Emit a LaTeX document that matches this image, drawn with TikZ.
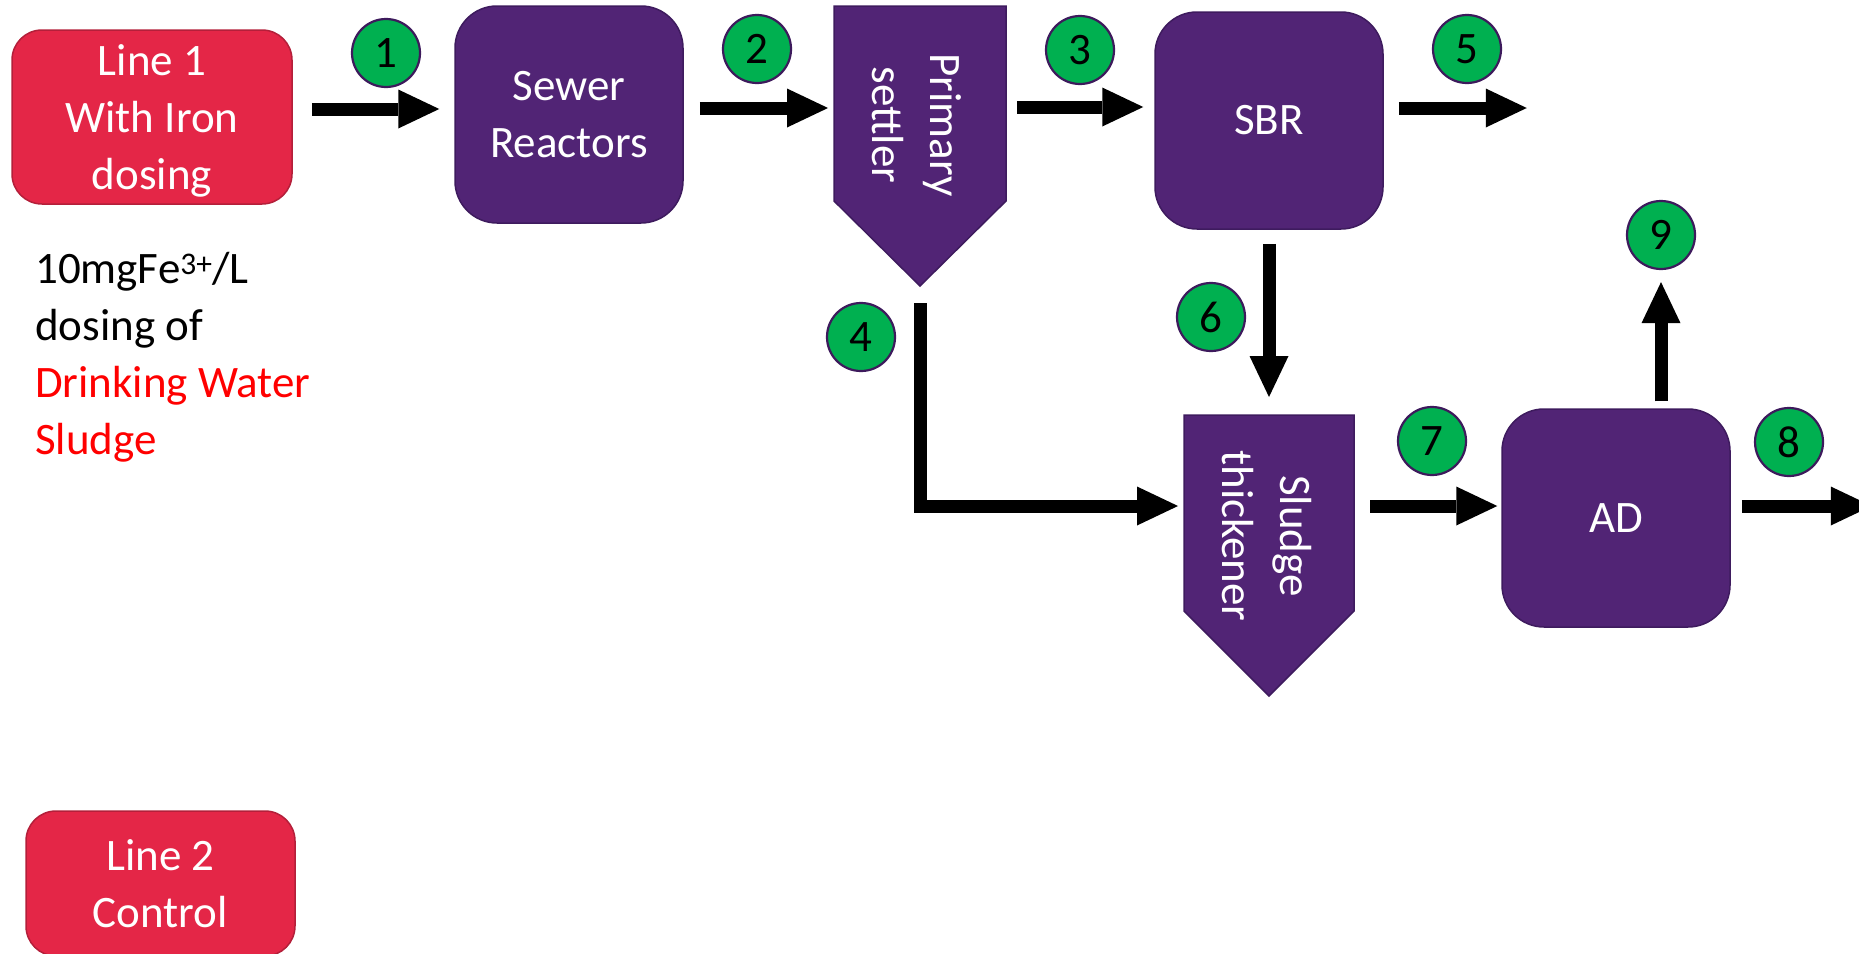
\documentclass[tikz,border=0pt]{standalone}
\usepackage{fontspec}
\setmainfont{Carlito}
\usetikzlibrary{arrows.meta,calc}

\definecolor{procfill}{HTML}{512475}
\definecolor{procedge}{HTML}{3E1B5E}
\definecolor{linefill}{HTML}{E42647}
\definecolor{lineedge}{HTML}{B41F3A}
\definecolor{numfill}{HTML}{00B050}
\definecolor{numedge}{HTML}{3D1A5C}

\newcommand{\bigfont}{\fontsize{45pt}{57pt}\selectfont}
\newcommand{\sidefont}{\fontsize{45pt}{58pt}\selectfont}

\tikzset{
  linebox/.style={draw=lineedge, fill=linefill, line width=1.5pt, rounded corners=30pt,
    text=white, font=\bigfont, align=center, inner sep=0pt},
  procbox/.style={draw=procedge, fill=procfill, line width=1.5pt, rounded corners=42pt,
    text=white, font=\bigfont, align=center, inner sep=0pt,
    minimum width=228pt, minimum height=217pt},
  tankframe/.style={rectangle, inner sep=0pt, outer sep=0pt},
  tankshape/.style={draw=procedge, fill=procfill, line width=1.5pt, line join=miter},
  tanklabel/.style={rotate=-90, text=white, font=\sidefont, align=center, inner sep=0pt},
  num/.style={circle, draw=numedge, line width=2.2pt, fill=numfill, minimum size=68pt,
    inner sep=0pt, font=\bigfont, text=black},
  flow/.style={line width=13pt, line join=miter,
    -{Triangle[length=41pt, width=39pt, line width=0pt]}},
}

\begin{document}
\begin{tikzpicture}[x=1pt, y=-1pt]
\useasboundingbox (0,0) rectangle (1859,953);
\clip (0,0) rectangle (1859,953);
\fill[white] (0,0) rectangle (1859,953);

% treatment lines
\node[linebox, minimum width=280pt, minimum height=174pt] (line1) at (152,117)
  {\rule{0pt}{38pt}Line 1\\With Iron\\dosing};
\node[linebox, minimum width=269pt, minimum height=145pt] (line2) at (160.5,883.5)
  {Line 2\\Control};

% dosing note
\node[anchor=north west, align=left, inner sep=0pt, font=\bigfont] (note) at (35,252)
  {10mgFe\textsuperscript{3+}/L\\dosing of\\\textcolor{red}{Drinking Water}\\\textcolor{red}{Sludge}};

% process units
\node[procbox] (sewer) at (569,114.5) {Sewer\\Reactors};
\node[procbox] (sbr) at (1269,120.5) {SBR};
\node[procbox, minimum height=218pt] (ad) at (1616,518) {AD};

% settling tanks: rectangular body with a pointed bottom
\node[tankframe, minimum width=172pt, minimum height=195pt] (settler) at (920,103.5) {};
\path[tankshape] (settler.north west) -- (settler.north east) -- (settler.south east)
  -- ($(settler.south)+(0,85)$) -- (settler.south west) -- cycle;
\node[tanklabel] (settlerlabel) at (917,125) {Primary\\settler};

\node[tankframe, minimum width=170pt, minimum height=196pt] (thick) at (1269,513) {};
\path[tankshape] (thick.north west) -- (thick.north east) -- (thick.south east)
  -- ($(thick.south)+(0,85)$) -- (thick.south west) -- cycle;
\node[tanklabel] (thicklabel) at (1267,536) {Sludge\\thickener};

% flows
\draw[flow] ($(line1.east)+(19,-8)$) -- ($(sewer.west)+(-15,-5.5)$);
\draw[flow] ($(sewer.east)+(16,-6.5)$) -- ($(settler.west)+(-6,4.5)$);
\draw[flow] ($(settler.east)+(11,3.5)$) -- ($(sbr.west)+(-11,-13.5)$);
\draw[flow] ($(sbr.east)+(15,-12.5)$) -- ++(128,0);
\draw[flow] ($(sbr.south)+(0,14)$) -- ($(thick.north)+(0,-18)$);
\draw[flow] ($(settler.south)+(0,102)$) |- ($(thick.west)+(-6,-7)$);
\draw[flow] ($(thick.east)+(16,-7)$) -- ($(ad.west)+(-4,-12)$);
\draw[flow] ($(ad.east)+(11,-12)$) -- ++(130,0);

% stream numbers
\node[num] (c1) at (386,53) {1};
\node[num] (c2) at (757,49) {2};
\node[num] (c3) at (1080,50) {3};
\node[num] (c4) at (861,337) {4};
\node[num] (c5) at (1467,49) {5};
\node[num] (c6) at (1211,317) {6};
\node[num] (c7) at (1432,441) {7};
\node[num] (c8) at (1789,442) {8};
\node[num] (c9) at (1661,235) {9};

\draw[flow] ($(ad.north)+(45,-7)$) -- ($(c9.south)+(0,12)$);
\end{tikzpicture}
\end{document}
